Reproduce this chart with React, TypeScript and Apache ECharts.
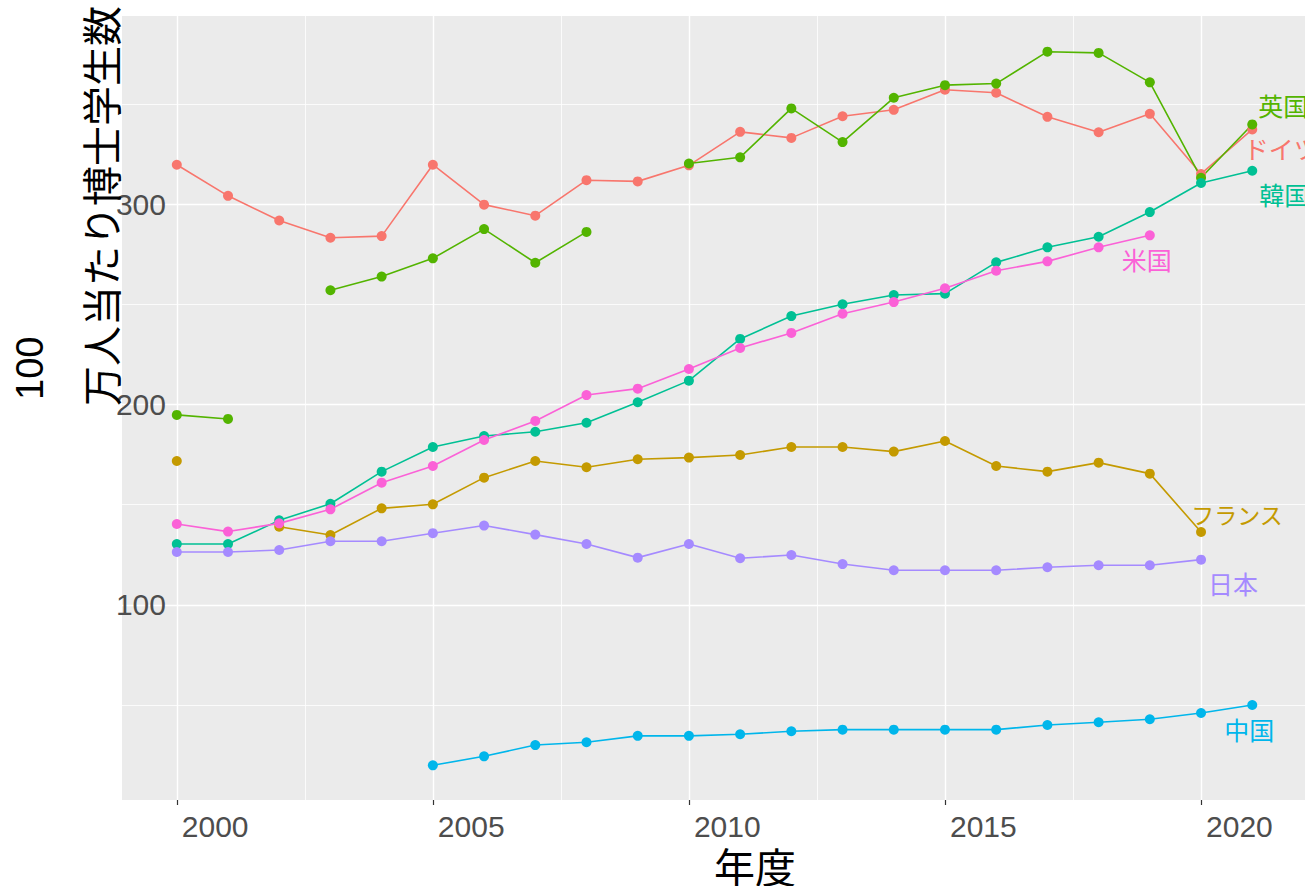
import React, { useEffect, useRef } from "react";
import * as echarts from "echarts";

const years = [2000, 2001, 2002, 2003, 2004, 2005, 2006, 2007, 2008, 2009, 2010, 2011, 2012, 2013, 2014, 2015, 2016, 2017, 2018, 2019, 2020, 2021];
const xMajorTicks = [2000, 2005, 2010, 2015, 2020];
const xMinorTicks = [2002.5, 2007.5, 2012.5, 2017.5];
const yMajorTicks = [100, 200, 300];
const yMinorTicks = [50, 150, 250, 350];

const germany = [319.6, 304.1, 291.8, 283.2, 284, 319.6, 299.7, 294.2, 311.9, 311.3, 319.3, 336, 333, 343.8, 347, 357, 355.5, 343.5, 335.8, 345, 315, 337.2];
const france = [171.8, null, 139, 134.9, 148.2, 150.2, 163.5, 171.8, 168.7, 172.7, 173.5, 174.8, 178.8, 178.8, 176.5, 181.8, 169.3, 166.5, 171, 165.5, 136.4, null];
const uk = [194.8, 192.8, null, 257, 263.8, 272.9, 287.5, 270.7, 286.1, null, 320.2, 323.3, 347.7, 330.9, 353, 359.3, 360.1, 376, 375.4, 360.7, 313.1, 339.7];
const korea = [130.4, 130.4, 142.2, 150.5, 166.5, 178.8, 184.3, 186.4, 190.9, 201.1, 211.9, 232.7, 244.1, 250, 254.6, 255.3, 270.9, 278.4, 283.7, 296, 310.5, 316.6];
const china = [null, null, null, null, null, 20, 24.5, 30.1, 31.5, 34.7, 34.7, 35.5, 37, 37.8, 37.8, 37.8, 37.8, 40.1, 41.5, 43, 46.1, 50.1];
const japan = [126.4, 126.4, 127.4, 131.8, 131.8, 135.8, 139.6, 135.1, 130.4, 123.6, 130.4, 123.3, 124.9, 120.4, 117.3, 117.3, 117.3, 118.8, 119.8, 119.8, 122.6, null];
const usa = [140.4, 136.6, 140.7, 147.7, 161, 169.3, 182.3, 191.8, 204.7, 207.9, 217.7, 228.2, 235.7, 245.3, 251.1, 258, 266.7, 271.4, 278.4, 284.4, null, null];

const countryNames = ["ドイツ", "フランス", "英国", "韓国", "中国", "日本", "米国"];
const countryValues = [germany, france, uk, korea, china, japan, usa];

// styles (kept apart from the data)
const colors = ["#F8766D", "#C49A00", "#53B400", "#00C094", "#00B6EB", "#A58AFF", "#FB61D7"];
const labelOffsets: number[][] = [[29, 19], [36, -18], [31, -19], [32, 23], [-3, 24], [32, 23], [-3, 24]];
const labelSizes = [25, 23, 25, 25, 25, 25, 25];

const JP = "'Noto Sans CJK JP', 'Noto Sans', sans-serif";
const NUM = "'Liberation Sans', Arial, sans-serif";
const NARROW = "'Liberation Sans Narrow', 'Arial Narrow', 'Liberation Sans', sans-serif";

export default function App() {
  const ref = useRef<HTMLDivElement>(null);
  useEffect(() => {
    if (!ref.current) return;
    const chart = echarts.init(ref.current, null, { renderer: "svg" });
    const series = countryNames.map((name, si) => {
      const vals = countryValues[si];
      let last = -1;
      vals.forEach((v, i) => { if (v !== null) last = i; });
      const data = years.map((y, i) => {
        const v = vals[i];
        const item: any = { value: [y, v === null ? "-" : v] };
        if (i === last) {
          item.label = {
            show: true,
            formatter: name,
            position: "inside",
            offset: labelOffsets[si],
            align: "center",
            verticalAlign: "middle",
            fontSize: labelSizes[si],
            fontFamily: JP,
            color: colors[si],
          };
        }
        return item;
      });
      return {
        type: "line",
        name,
        data,
        connectNulls: false,
        symbol: "circle",
        symbolSize: 10,
        showAllSymbol: true,
        itemStyle: { color: colors[si] },
        lineStyle: { color: colors[si], width: 1.6 },
        label: { show: false },
        emphasis: { disabled: true },
        z: 3,
      };
    });

    chart.setOption({
      animation: false,
      backgroundColor: "#ffffff",
      grid: {
        left: 122, right: 0, top: 16, bottom: 86,
        show: true, backgroundColor: "#EBEBEB", borderWidth: 0,
      },
      xAxis: [
        {
          type: "value", min: 1998.93, max: 2022.03,
          axisLine: { show: false },
          axisTick: { show: true, customValues: xMajorTicks, length: 5, lineStyle: { color: "#333333", width: 1.2 } },
          axisLabel: {
            customValues: xMajorTicks, fontSize: 30, color: "#4D4D4D", fontFamily: NARROW,
            align: "left", margin: 11, padding: [0, 0, 0, 5],
            formatter: (v: number) => String(v),
          },
          splitLine: { show: true, lineStyle: { color: "#ffffff", width: 1.4 } },
        },
        {
          type: "value", min: 1998.93, max: 2022.03, position: "bottom",
          axisLine: { show: false },
          axisTick: { show: false, customValues: xMinorTicks },
          axisLabel: { show: false },
          splitLine: { show: true, lineStyle: { color: "#ffffff", width: 0.8 } },
        },
      ],
      yAxis: [
        {
          type: "value", min: 2.7, max: 393.8,
          axisLine: { show: false },
          axisTick: { show: false, customValues: yMajorTicks },
          axisLabel: {
            customValues: yMajorTicks, fontSize: 30, color: "#4D4D4D", fontFamily: NUM,
            margin: -44, formatter: (v: number) => String(v),
          },
          splitLine: { show: true, lineStyle: { color: "#ffffff", width: 1.4 } },
        },
        {
          type: "value", min: 2.7, max: 393.8, position: "left",
          axisLine: { show: false },
          axisTick: { show: false, customValues: yMinorTicks },
          axisLabel: { show: false },
          splitLine: { show: true, lineStyle: { color: "#ffffff", width: 0.8 } },
        },
      ],
      series,
      graphic: [
        {
          type: "text", x: 30, y: 400, rotation: Math.PI / 2, z: 10,
          style: { text: "100", fontSize: 38, fontFamily: NUM, fill: "#000000", align: "left", verticalAlign: "middle" },
        },
        {
          type: "text", x: 100, y: 406, rotation: Math.PI / 2, z: 10,
          style: { text: "万人当たり博士学生数", fontSize: 40, fontFamily: JP, fill: "#000000", align: "left", verticalAlign: "middle" },
        },
        {
          type: "text", x: 755, y: 865, z: 10,
          style: { text: "年度", fontSize: 41, fontFamily: JP, fill: "#000000", align: "center", verticalAlign: "middle" },
        },
      ],
    });
    return () => chart.dispose();
  }, []);
  return <div ref={ref} style={{ position: "fixed", left: 0, top: 0, width: 1305, height: 886 }} />;
}
